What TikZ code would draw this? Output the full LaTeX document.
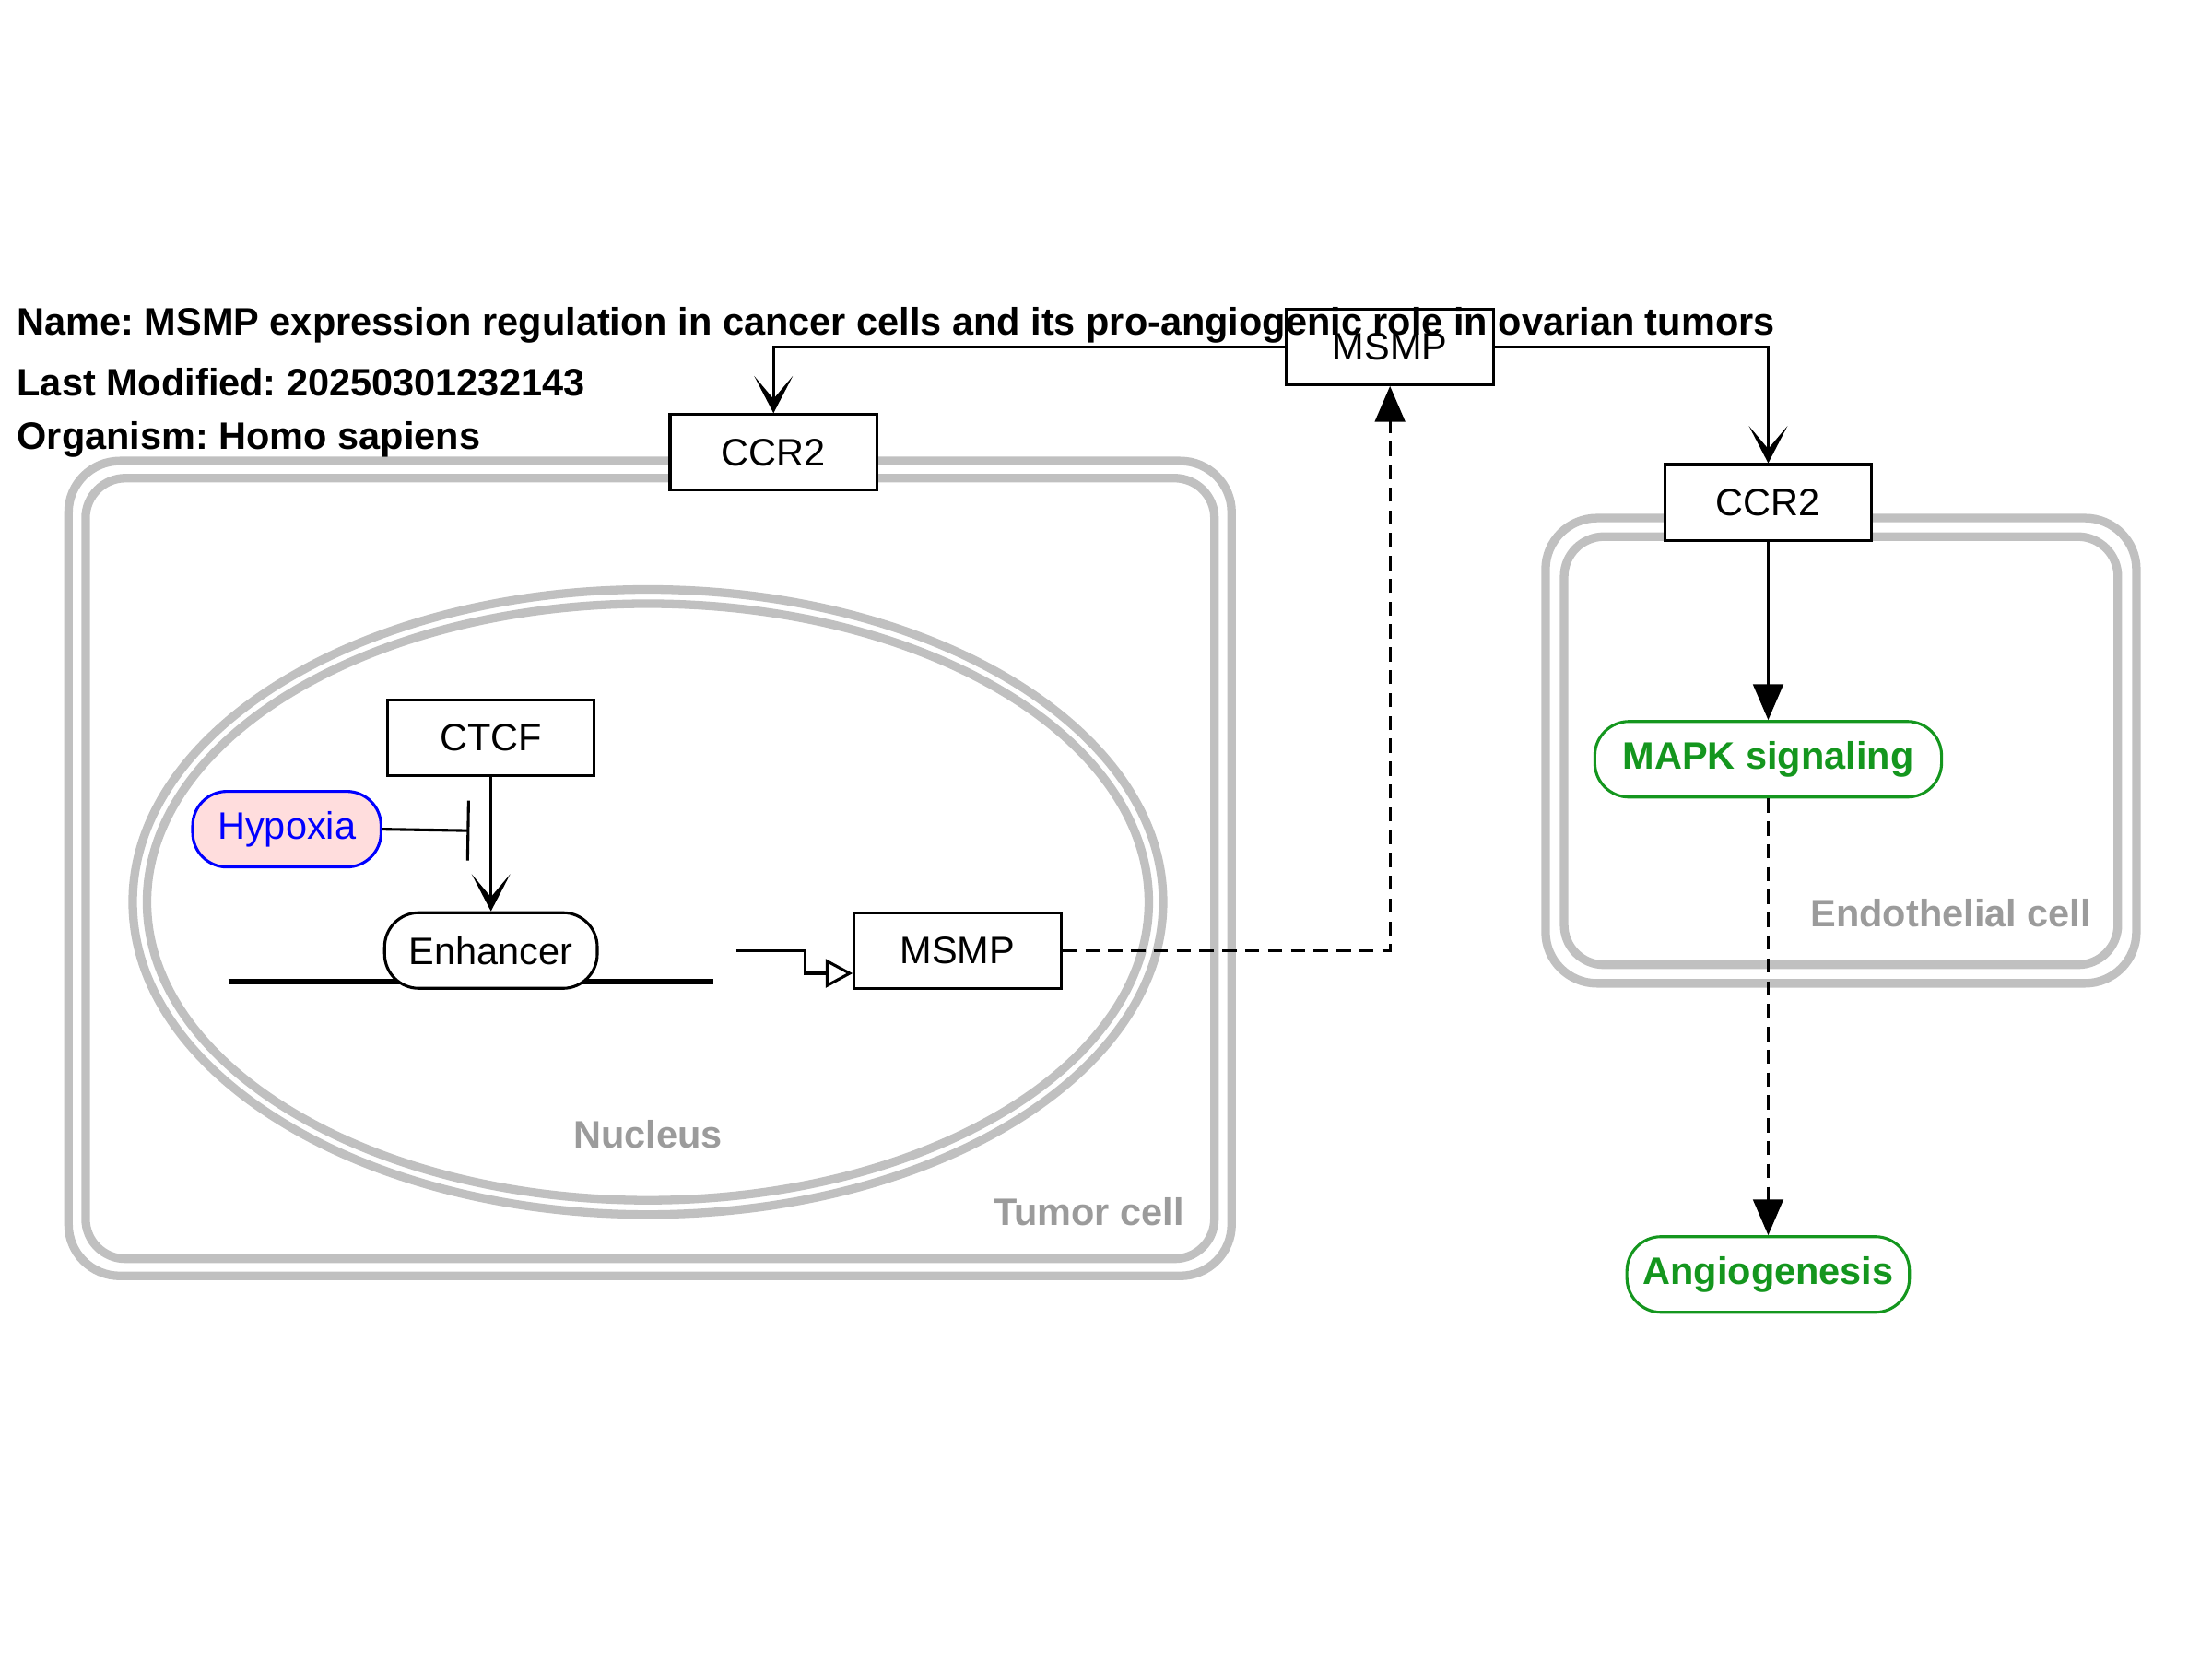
\documentclass[tikz,border=0pt]{standalone}
\usepackage{fontspec}
\setmainfont{Liberation Sans}
\usetikzlibrary{arrows.meta}
\definecolor{memgray}{RGB}{192,192,192}
\definecolor{labelgray}{RGB}{155,155,155}
\definecolor{pathgreen}{RGB}{20,150,30}
\definecolor{hypoxiapink}{RGB}{255,221,221}
\tikzstyle{gene box}=[draw, line width=1pt, fill=white, inner sep=0pt, minimum width=72.5pt, minimum height=26.5pt]
\tikzstyle{pill}=[draw, line width=1pt, fill=white, rounded corners=12pt, inner sep=0pt, minimum height=26.5pt]
\tikzstyle{pathway}=[pill, draw=pathgreen, text=pathgreen, font=\bfseries]
\tikzstyle{membrane}=[draw=memgray, line width=3pt]
\tikzstyle{comp label}=[text=labelgray, font=\bfseries, inner sep=0pt]
\tikzstyle{title}=[anchor=west, inner sep=0pt, font=\bfseries]
\tikzstyle{binds}=[-{Stealth[length=13pt,width=13.5pt,inset=8pt]}]
\tikzstyle{converts}=[-{Triangle[length=12.5pt,width=10.5pt]}]
\tikzstyle{inhibits}=[-{Bar[width=21pt]}]
\tikzstyle{promoter}=[-{Triangle[open,length=9.5pt,width=10pt]}]
\tikzstyle{indirect}=[dash pattern=on 5pt off 3pt]

\begin{document}
\frenchspacing
\fontsize{13.4}{16}\selectfont
\begin{tikzpicture}[x=0.5pt,y=-0.5pt,line width=1pt]
    \useasboundingbox (0,0) rectangle (1550,1162.5);

    % Compartments
    \draw[membrane,rounded corners=18pt] (48,323) rectangle (863,894);
    \draw[membrane,rounded corners=14pt] (60,335) rectangle (851,882);
    \draw[membrane] (454,632) ellipse [x radius=361, y radius=219];
    \draw[membrane] (454,632) ellipse [x radius=351, y radius=209];
    \draw[membrane,rounded corners=18pt] (1083,363) rectangle (1497,689);
    \draw[membrane,rounded corners=14pt] (1096,376) rectangle (1484,676);
    \draw (454,795) node[comp label] (nucleusLabel) {Nucleus};
    \draw (763,849) node[comp label] (tumorLabel) {Tumor cell};
    \draw (1367,640) node[comp label] (endoLabel) {Endothelial cell};

    % DNA
    \draw[line width=2pt] (160,688) -- (500,688);

    % Entities
    \draw (974,243) node[gene box] (msmpOut) {MSMP};
    \draw (542,317) node[gene box] (ccrTumor) {CCR2};
    \draw (1239,352) node[gene box] (ccrEndo) {CCR2};
    \draw (344,517) node[gene box] (ctcf) {CTCF};
    \draw (671,666) node[gene box] (msmpGene) {MSMP};
    \draw (201,581) node[pill,draw=blue,text=blue,fill=hypoxiapink,minimum width=66pt] (hypoxia) {Hypoxia};
    \draw (344,666) node[pill,minimum width=74.5pt] (enhancer) {Enhancer};
    \draw (1239,532) node[pathway,minimum width=121.5pt] (mapk) {MAPK signaling};
    \draw (1239,893) node[pathway,minimum width=99pt] (angio) {Angiogenesis};

    % Interactions
    \coordinate (ctcfMid) at (329,582);
    \coordinate (tss) at (516,666);
    \draw[binds] (msmpOut.west) -| (ccrTumor.north);
    \draw[binds] (msmpOut.east) -| (ccrEndo.north);
    \draw[binds] (ctcf.south) -- (enhancer.north);
    \draw[inhibits] (hypoxia.east) -- (ctcfMid);
    \draw[promoter] (tss) -- ++(48,0) -- ++(0,16) -- ([yshift=-8pt]msmpGene.west);
    \draw[converts,indirect] (msmpGene.east) -| (msmpOut.south);
    \draw[converts] (ccrEndo.south) -- (mapk.north);
    \draw[converts,indirect] (mapk.south) -- (angio.north);

    % Title
    \draw (11,228) node[title] (name) {Name: MSMP expression regulation in cancer cells and its pro-angiogenic role in ovarian tumors};
    \draw (11,268) node[title] (modified) {Last Modified: 20250301232143};
    \draw (11,308) node[title] (organism) {Organism: Homo sapiens};

\end{tikzpicture}
\end{document}
